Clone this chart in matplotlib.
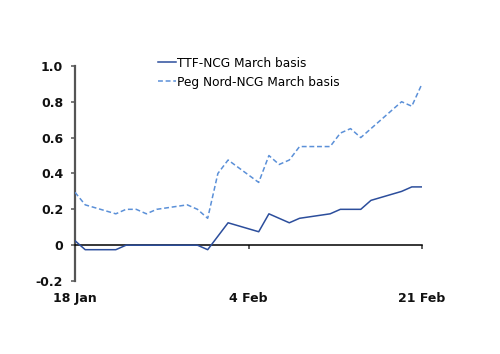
import matplotlib
matplotlib.use("Agg")
import matplotlib.pyplot as plt
import pandas as pd

# business days, 18 Jan - 21 Feb 2018
dates = ["2018-01-18", "2018-01-19", "2018-01-22", "2018-01-23", "2018-01-24",
         "2018-01-25", "2018-01-26", "2018-01-29", "2018-01-30", "2018-01-31",
         "2018-02-01", "2018-02-02", "2018-02-05", "2018-02-06", "2018-02-07",
         "2018-02-08", "2018-02-09", "2018-02-12", "2018-02-13", "2018-02-14",
         "2018-02-15", "2018-02-16", "2018-02-19", "2018-02-20", "2018-02-21"]
ttf_ncg = [0.025, -0.025, -0.025, 0, 0, 0, 0, 0, 0, -0.025,
           0.05, 0.125, 0.075, 0.175, 0.15, 0.125, 0.15, 0.175, 0.2, 0.2,
           0.2, 0.25, 0.3, 0.325, 0.325]
peg_ncg = [0.295, 0.225, 0.175, 0.2, 0.2, 0.175, 0.2, 0.225, 0.2, 0.15,
           0.4, 0.475, 0.35, 0.5, 0.45, 0.475, 0.55, 0.55, 0.625, 0.65,
           0.6, 0.65, 0.8, 0.775, 0.9]
series_names = ["TTF-NCG March basis", "Peg Nord-NCG March basis"]
xtick_dates = ["2018-01-18", "2018-02-04", "2018-02-21"]
xtick_labels = ["18 Jan", "4 Feb", "21 Feb"]
yticks = [-0.2, 0, 0.2, 0.4, 0.6, 0.8, 1.0]
ytick_labels = ["-0.2", "0", "0.2", "0.4", "0.6", "0.8", "1.0"]

x = pd.to_datetime(dates)
plt.rcParams["font.family"] = ["DejaVu Sans"]

fig = plt.figure(figsize=(5.0, 3.54), dpi=100)
ax = fig.add_axes([0.15, 0.206, 0.694, 0.608])

ax.plot(x, ttf_ncg, color="#2c4e9c", lw=1.1, label=series_names[0], zorder=3)
ax.plot(x, peg_ncg, color="#5b90d8", lw=1.1, ls=(0, (3.2, 1.8)),
        label=series_names[1], zorder=3)

ax.set_xlim(x[0], x[-1])
ax.set_ylim(-0.2, 1.0)
ax.set_yticks(yticks)
ax.set_yticklabels(ytick_labels)
ax.set_xticks(pd.to_datetime(xtick_dates))
ax.set_xticklabels(xtick_labels)

for s in ["top", "right"]:
    ax.spines[s].set_visible(False)
ax.spines["left"].set_color("#555555")
ax.spines["left"].set_linewidth(1.6)
ax.spines["bottom"].set_position(("data", 0))
ax.spines["bottom"].set_color("black")
ax.spines["bottom"].set_linewidth(1.1)

ax.tick_params(axis="y", direction="out", length=3, width=1.1, color="#555555",
               pad=5.5, labelsize=9)
ax.tick_params(axis="x", direction="out", length=3, width=1.1, color="#333333",
               pad=31, labelsize=9)
for lab in ax.get_xticklabels() + ax.get_yticklabels():
    lab.set_fontweight("bold")
    lab.set_color("#111111")

ax.legend(loc="upper left", bbox_to_anchor=(0.316, 0.84),
          bbox_transform=fig.transFigure, frameon=False, fontsize=8.7,
          handlelength=1.45, handletextpad=0.15, labelspacing=0.5,
          borderpad=0, borderaxespad=0)

fig.savefig("out.png", dpi=100)
